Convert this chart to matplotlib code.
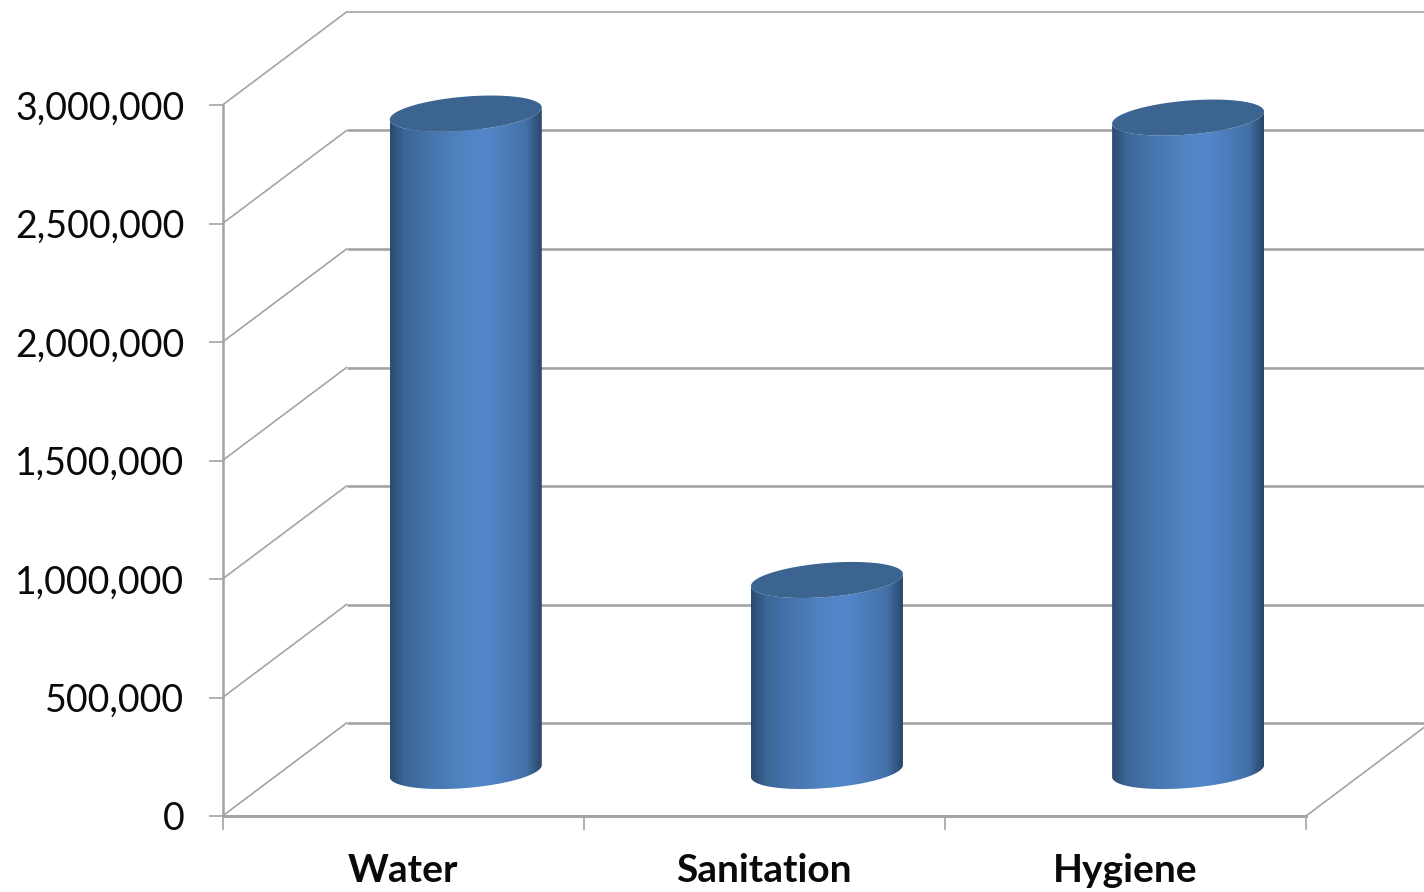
import numpy as np
import matplotlib
matplotlib.use("Agg")
import matplotlib.pyplot as plt
from matplotlib.colors import LinearSegmentedColormap
from matplotlib.patches import Polygon
from matplotlib.ticker import FixedLocator, FixedFormatter, FuncFormatter

categories = ["Water", "Sanitation", "Hygiene"]
values = [2774000, 806000, 2757000]
y_ticks = [0, 500000, 1000000, 1500000, 2000000, 2500000, 3000000]

W, H = 1424, 892
PX_L, PX_R, PX_B, PX_T = 222.5, 1306, 816, 105
GRID = "#a4a4a4"
TOP = "#3c6491"
stops = ["#2b4a70", "#3c6797", "#4877b1", "#4f82c0", "#5488cb", "#4b7cb9", "#4370a6", "#2a4668"]
stop_pos = [0, 0.1, 0.3, 0.45, 0.62, 0.78, 0.9, 1]

plt.rcParams["font.family"] = ["Lato", "DejaVu Sans"]
fig = plt.figure(figsize=(W / 100, H / 100), dpi=100, facecolor="white")
ax = fig.add_axes([PX_L / W, (H - PX_B) / H, (PX_R - PX_L) / W, (PX_B - PX_T) / H])
ax.set_xlim(0, 3)
ax.set_ylim(0, 3000000)
ax.patch.set_visible(False)

ux = (PX_R - PX_L) / 3          # px per category
uy = (PX_B - PX_T) / 3000000    # px per value
depth_x = 124 / ux
depth_y = 93 / uy

# walls
for v in y_ticks:
    lw = 1.2 if v == 3000000 else 1.9
    ax.plot([depth_x, 3 + depth_x], [v + depth_y] * 2, color=GRID, lw=lw, clip_on=False, zorder=1,
            solid_capstyle="butt")
    ax.plot([0, depth_x], [v, v + depth_y], color=GRID, lw=1.2, clip_on=False, zorder=1)
ax.plot([3, 3 + depth_x], [0, depth_y], color=GRID, lw=1.2, clip_on=False, zorder=1)

# cylinders
cmap = LinearSegmentedColormap.from_list("cyl", list(zip(stop_pos, stops)))
grad = np.linspace(0, 1, 256).reshape(1, -1)
half_w = 76 / ux
skew = 6 / uy
minor = 17 / uy
t = np.linspace(0, 2 * np.pi, 181)
for i, v in enumerate(values):
    cx = i + 0.5 + 62.7 / ux
    cy0 = 45 / uy
    x_e = half_w * np.cos(t)
    y_e = skew * np.cos(t) + minor * np.sin(t)
    lower = t[(t >= np.pi) & (t <= 2 * np.pi)]
    bx = cx + half_w * np.cos(lower)
    by = cy0 + skew * np.cos(lower) + minor * np.sin(lower)
    upper = lower[::-1]
    tx = cx + half_w * np.cos(upper)
    ty = cy0 + v + skew * np.cos(upper) + minor * np.sin(upper)
    body = Polygon(np.column_stack([np.r_[bx, tx], np.r_[by, ty]]), closed=True,
                   transform=ax.transData, fc="none", ec="none")
    ax.add_patch(body)
    im = ax.imshow(grad, cmap=cmap, aspect="auto", zorder=3, interpolation="bilinear",
                   extent=[cx - half_w, cx + half_w, 0, 3000000], clip_on=True)
    im.set_clip_path(body)
    ax.fill(cx + x_e, cy0 + v + y_e, color=TOP, lw=0, zorder=4, clip_on=False)
ax.set_xlim(0, 3)
ax.set_ylim(0, 3000000)

# axes
for s in ("top", "right"):
    ax.spines[s].set_visible(False)
for s in ("left", "bottom"):
    ax.spines[s].set_color(GRID)
    ax.spines[s].set_linewidth(2.2 if s == "bottom" else 1.8)
    ax.spines[s].set_zorder(2)
ax.set_yticks(y_ticks)
ax.yaxis.set_major_formatter(FuncFormatter(lambda v, _: f"{int(v):,}"))
ax.tick_params(axis="y", length=10, width=1.2, color=GRID, pad=17.5, labelsize=27, labelcolor="#0a0a0a")
ax.xaxis.set_major_locator(FixedLocator([0, 1, 2, 3]))
ax.xaxis.set_major_formatter(FixedFormatter(["", "", "", ""]))
ax.xaxis.set_minor_locator(FixedLocator([0.5, 1.5, 2.5]))
ax.xaxis.set_minor_formatter(FixedFormatter(categories))
ax.tick_params(axis="x", which="major", length=10, width=1.2, color=GRID)
ax.tick_params(axis="x", which="minor", length=0, pad=27, labelsize=28, labelcolor="#0a0a0a")
for lab in ax.get_xminorticklabels():
    lab.set_fontweight("bold")

fig.savefig("out.png", dpi=100, facecolor="white")
